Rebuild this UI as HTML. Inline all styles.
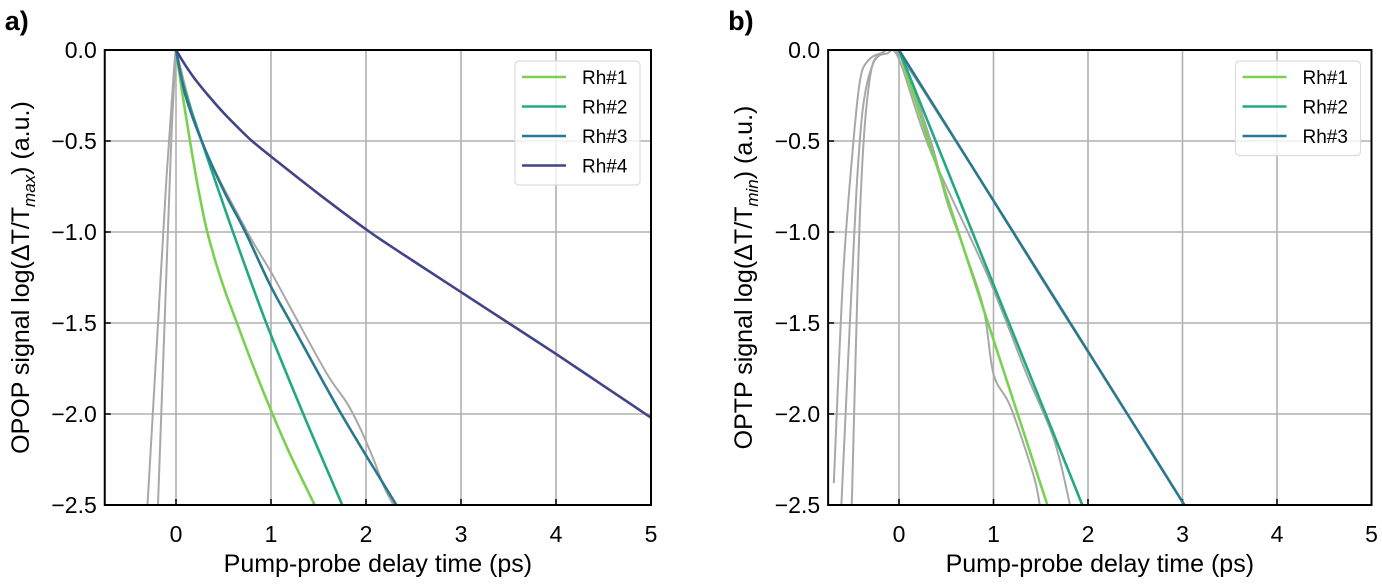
<!DOCTYPE html>
<html><head><meta charset="utf-8"><style>
body{margin:0;background:#fff;width:1382px;height:580px;overflow:hidden}
svg text{font-family:"Liberation Sans",sans-serif;fill:#000}
</style></head><body>
<svg id="c" width="1382" height="580" xmlns="http://www.w3.org/2000/svg"></svg>
<script>
const xTicks=[0,1,2,3,4,5];
const yTicks=[0,-0.5,-1,-1.5,-2,-2.5];
const yTickLabels=["0.0","\u22120.5","\u22121.0","\u22121.5","\u22122.0","\u22122.5"];
const xTickLabels=["0","1","2","3","4","5"];
const colors=["#7ad151","#22a884","#2a788e","#414487"];
// panel a
const aRh1x=[0,0.07,0.147,0.23,0.32,0.42,0.52,0.62,0.8,1.0,1.2,1.46];
const aRh1y=[0,-0.25,-0.5,-0.75,-0.98,-1.17,-1.33,-1.47,-1.72,-1.98,-2.22,-2.5];
const aRh2x=[0,0.08,0.27,0.6,0.95,1.34,1.75];
const aRh2y=[0,-0.2,-0.5,-1.0,-1.5,-2.0,-2.5];
const aRh3x=[0,0.1,0.27,0.5,0.73,0.99,1.21,1.74,2.32];
const aRh3y=[0,-0.25,-0.5,-0.77,-1.0,-1.29,-1.5,-2.0,-2.5];
const aRh4x=[0,0.1,0.2,0.34,0.5,0.65,0.8,1.0,1.5,2.04,2.5,3,3.5,4,4.5,5];
const aRh4y=[0,-0.085,-0.16,-0.25,-0.345,-0.425,-0.5,-0.585,-0.79,-1.0,-1.16,-1.33,-1.5,-1.67,-1.845,-2.02];
const aG1x=[-0.3,-0.2,-0.1,-0.02,0];
const aG1y=[-2.5,-1.6,-0.7,-0.1,0];
const aG2x=[-0.19,-0.12,-0.05,0];
const aG2y=[-2.5,-1.5,-0.5,0];
const aG3x=[0,0.07,0.147,0.23,0.32,0.42,0.52,0.62,0.8,1.0,1.2,1.46];
const aG3y=[0,-0.25,-0.5,-0.75,-0.98,-1.17,-1.33,-1.47,-1.72,-1.98,-2.22,-2.5];
const aG4x=[0,0.27,0.73,1.0,1.24,1.59,1.8,1.94,2.08,2.19,2.29];
const aG4y=[0,-0.5,-0.98,-1.22,-1.45,-1.78,-1.94,-2.08,-2.25,-2.4,-2.5];
// panel b
const bRh1x=[0,1.57];const bRh1y=[0,-2.5];
const bRh2x=[0,1.94];const bRh2y=[0,-2.5];
const bRh3x=[0,3.02];const bRh3y=[0,-2.5];
const bG1x=[-0.69,-0.59,-0.48,-0.41,-0.33,-0.2,0,0.33,0.5,0.65,0.89,1.0,1.18,1.42,1.49];
const bG1y=[-2.38,-1.23,-0.49,-0.16,-0.06,-0.02,-0.02,-0.49,-0.82,-1.04,-1.41,-1.78,-1.96,-2.33,-2.5];
const bG2x=[-0.61,-0.52,-0.45,-0.38,-0.27,-0.13,0,0.33,0.93,1.35,1.64,1.81];
const bG2y=[-2.5,-1.5,-0.77,-0.31,-0.07,-0.02,-0.05,-0.55,-1.23,-1.78,-2.14,-2.5];
const bG3x=[-0.5,-0.41,-0.31,-0.18,0,0.5,1.0,1.5,2.0,2.34,2.7,3.02];
const bG3y=[-2.5,-0.86,-0.16,-0.02,-0.03,-0.42,-0.83,-1.25,-1.66,-1.94,-2.23,-2.5];

const NS="http://www.w3.org/2000/svg";
const svg=document.getElementById('c');
function mk(tag,attrs,parent){const e=document.createElementNS(NS,tag);for(const k in attrs)e.setAttribute(k,attrs[k]);(parent||svg).appendChild(e);return e;}
function smooth(pts){
  if(pts.length<3)return 'M'+pts.map(p=>p.join(',')).join(' L');
  let d='M'+pts[0][0]+','+pts[0][1];
  for(let i=0;i<pts.length-1;i++){
    const p0=pts[i-1]||pts[i],p1=pts[i],p2=pts[i+1],p3=pts[i+2]||p2;
    const c1=[p1[0]+(p2[0]-p0[0])/6,p1[1]+(p2[1]-p0[1])/6];
    const c2=[p2[0]-(p3[0]-p1[0])/6,p2[1]-(p3[1]-p1[1])/6];
    d+=` C${c1[0]},${c1[1]} ${c2[0]},${c2[1]} ${p2[0]},${p2[1]}`;
  }
  return d;
}
function panel(id,x0,unit,letter,ylabel,sub,series,grays,names){
  const g=mk('g',{});
  
  
  const top=50,bot=505,left=x0-0.75*unit,right=x0+5*unit;
  const X=v=>x0+v*unit, Y=v=>top+(-v)*(bot-top)/2.5;
  const clip=mk('clipPath',{id:'clip'+id},g);mk('rect',{x:left,y:top,width:right-left,height:bot-top},clip);
  xTicks.forEach((t,i)=>{
    const l=mk('line',{x1:X(t),x2:X(t),y1:top,y2:bot,stroke:'#b0b0b0','stroke-width':1.6},g);
    
    
    mk('line',{x1:X(t),x2:X(t),y1:bot,y2:bot-6,stroke:'#000','stroke-width':1.5},g);
    const tx=mk('text',{x:X(t),y:bot+37,'font-size':23,'text-anchor':'middle'},g);tx.textContent=xTickLabels[i];
    
    
  });
  yTicks.forEach((t,i)=>{
    const l=mk('line',{x1:left,x2:right,y1:Y(t),y2:Y(t),stroke:'#b0b0b0','stroke-width':1.6},g);
    
    
    mk('line',{x1:left,x2:left+6,y1:Y(t),y2:Y(t),stroke:'#000','stroke-width':1.5},g);
    const tx=mk('text',{x:left-8,y:Y(t)+8,'font-size':23,'text-anchor':'end'},g);tx.textContent=yTickLabels[i];
    
    
  });
  const cg=mk('g',{'clip-path':'url(#clip'+id+')'},g);
  grays.forEach(s=>{
    const p=mk('path',{d:smooth(s[0].map((v,i)=>[X(v),Y(s[1][i])])),fill:'none',stroke:'#a8a8a8','stroke-width':2},cg);
    
    
  });
  series.forEach((s,k)=>{
    const p=mk('path',{d:smooth(s[0].map((v,i)=>[X(v),Y(s[1][i])])),fill:'none',stroke:colors[k],'stroke-width':2.6},cg);
    
    
  });
  mk('rect',{x:left,y:top,width:right-left,height:bot-top,fill:'none',stroke:'#000','stroke-width':2},g);
  const lx=right-136,ly=61,lh=series.length*29.5+6;
  const lg=mk('g',{},g);
  
  
  mk('rect',{x:lx,y:ly,width:125,height:lh,rx:4,fill:'rgba(255,255,255,0.8)',stroke:'#dcdcdc','stroke-width':1.2},lg);
  names.forEach((n,k)=>{
    const yy=ly+16+k*29.5;
    mk('line',{x1:lx+7,x2:lx+51,y1:yy,y2:yy,stroke:colors[k],'stroke-width':2.6},lg);
    const t=mk('text',{x:lx+67,y:yy+7,'font-size':19},lg);t.textContent=n;
    
    
  });
  const xl=mk('text',{x:(left+right)/2,y:572,'font-size':25,'text-anchor':'middle'},g);xl.textContent='Pump-probe delay time (ps)';
  
  
  const yl=mk('text',{transform:`translate(${left-76},${(top+bot)/2}) rotate(-90)`,'font-size':25,'text-anchor':'middle'},g);
  yl.innerHTML=ylabel+'(\u0394T/T<tspan font-size="17" font-style="italic" dy="6">'+sub+'</tspan><tspan dy="-6">) (a.u.)</tspan>';
  
  
  const pl=mk('text',{x:left-100,y:30,'font-size':27,'font-weight':'bold'},g);pl.textContent=letter;
  
  
}
panel('a',176,95,'a)','OPOP signal log','max',
  [[aRh1x,aRh1y],[aRh2x,aRh2y],[aRh3x,aRh3y],[aRh4x,aRh4y]],
  [[aG1x,aG1y],[aG2x,aG2y],[aG3x,aG3y],[aG4x,aG4y],[aRh4x,aRh4y]],['Rh#1','Rh#2','Rh#3','Rh#4']);
panel('b',899,94.5,'b)','OPTP signal log','min',
  [[bRh1x,bRh1y],[bRh2x,bRh2y],[bRh3x,bRh3y]],
  [[bG1x,bG1y],[bG2x,bG2y],[bG3x,bG3y]],['Rh#1','Rh#2','Rh#3']);
</script>
</body></html>
